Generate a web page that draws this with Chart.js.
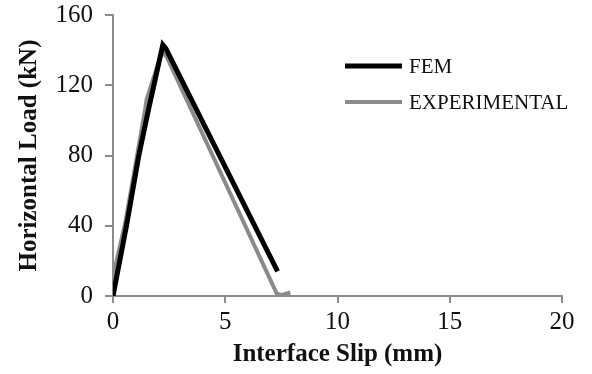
<!DOCTYPE html>
<html lang="en">
<head>
    <meta charset="UTF-8">
    <title>Horizontal Load vs Interface Slip</title>
    <script src="https://cdn.jsdelivr.net/npm/chart.js"></script>
    <style>
        html, body {
            margin: 0;
            padding: 0;
            background: #fff;
        }
        #wrap {
            width: 592px;
            height: 374px;
        }
    </style>
</head>
<body>
    <div id="wrap"><canvas id="slipChart"></canvas></div>

    <script>
        // values
        const femSlip = [0, 0.6, 1.15, 1.58, 2.22, 2.35, 7.33];
        const femLoad = [0, 40, 80, 106, 143, 141, 14];
        const expSlip = [0, 0.02, 0.55, 1.1, 1.43, 1.5, 2.18, 2.4, 7.29, 7.5, 7.9];
        const expLoad = [0, 12, 42, 82, 106, 112, 139, 136, 1.5, 0.5, 2];
        const xTicks = [0, 5, 10, 15, 20];
        const yTicks = [0, 40, 80, 120, 160];

        const toPoints = (xs, ys) => xs.map((x, i) => ({ x: x, y: ys[i] }));
        const axisGrey = '#8c8c8c';
        const serif = "'Liberation Serif', 'Times New Roman', serif";

        // legend drawn by hand, inside the plot on the right
        const sideLegend = {
            id: 'sideLegend',
            afterDraw(chart) {
                const ctx = chart.ctx;
                ctx.save();
                ctx.font = '21px ' + serif;
                ctx.textBaseline = 'middle';
                chart.data.datasets.forEach((ds, i) => {
                    const y = 66 + i * 36;
                    ctx.strokeStyle = ds.borderColor;
                    ctx.lineWidth = ds.borderWidth;
                    ctx.beginPath();
                    ctx.moveTo(345, y);
                    ctx.lineTo(402, y);
                    ctx.stroke();
                    ctx.fillStyle = '#111';
                    ctx.fillText(ds.label, 409, y + 1);
                });
                ctx.restore();
            }
        };

        new Chart(document.getElementById('slipChart'), {
            type: 'scatter',
            data: {
                datasets: [
                    {
                        label: 'FEM',
                        data: toPoints(femSlip, femLoad),
                        showLine: true,
                        borderColor: '#000',
                        borderWidth: 5,
                        pointRadius: 0,
                        tension: 0
                    },
                    {
                        label: 'EXPERIMENTAL',
                        data: toPoints(expSlip, expLoad),
                        showLine: true,
                        borderColor: '#8a8a8a',
                        borderWidth: 4,
                        pointRadius: 0,
                        tension: 0
                    }
                ]
            },
            options: {
                responsive: true,
                maintainAspectRatio: false,
                animation: false,
                layout: { padding: { top: 15, right: 30, left: 0, bottom: 0 } },
                plugins: {
                    legend: { display: false },
                    tooltip: { enabled: false }
                },
                scales: {
                    x: {
                        type: 'linear',
                        min: xTicks[0],
                        max: xTicks[xTicks.length - 1],
                        afterBuildTicks: s => { s.ticks = xTicks.map(v => ({ value: v })); },
                        afterFit: s => { s.height = 78; s.paddingLeft = 0; s.paddingRight = 0; },
                        grid: { drawOnChartArea: false, color: axisGrey, lineWidth: 2, tickLength: 7 },
                        border: { color: axisGrey, width: 2 },
                        ticks: { color: '#111', font: { family: serif, size: 25 }, padding: 4 },
                        title: {
                            display: true,
                            text: 'Interface Slip (mm)',
                            color: '#111',
                            font: { family: serif, size: 25, weight: 'bold' },
                            padding: { top: 0, bottom: 4 }
                        }
                    },
                    y: {
                        type: 'linear',
                        min: yTicks[0],
                        max: yTicks[yTicks.length - 1],
                        afterBuildTicks: s => { s.ticks = yTicks.map(v => ({ value: v })); },
                        afterFit: s => { s.width = 113; s.paddingTop = 0; s.paddingBottom = 0; },
                        grid: { drawOnChartArea: false, color: axisGrey, lineWidth: 2, tickLength: 8 },
                        border: { color: axisGrey, width: 2 },
                        ticks: { color: '#111', font: { family: serif, size: 25 }, padding: 12 },
                        title: {
                            display: true,
                            text: 'Horizontal Load (kN)',
                            color: '#111',
                            font: { family: serif, size: 25, weight: 'bold' },
                            padding: { top: 15, bottom: 0 }
                        }
                    }
                }
            },
            plugins: [sideLegend]
        });
    </script>
</body>
</html>
